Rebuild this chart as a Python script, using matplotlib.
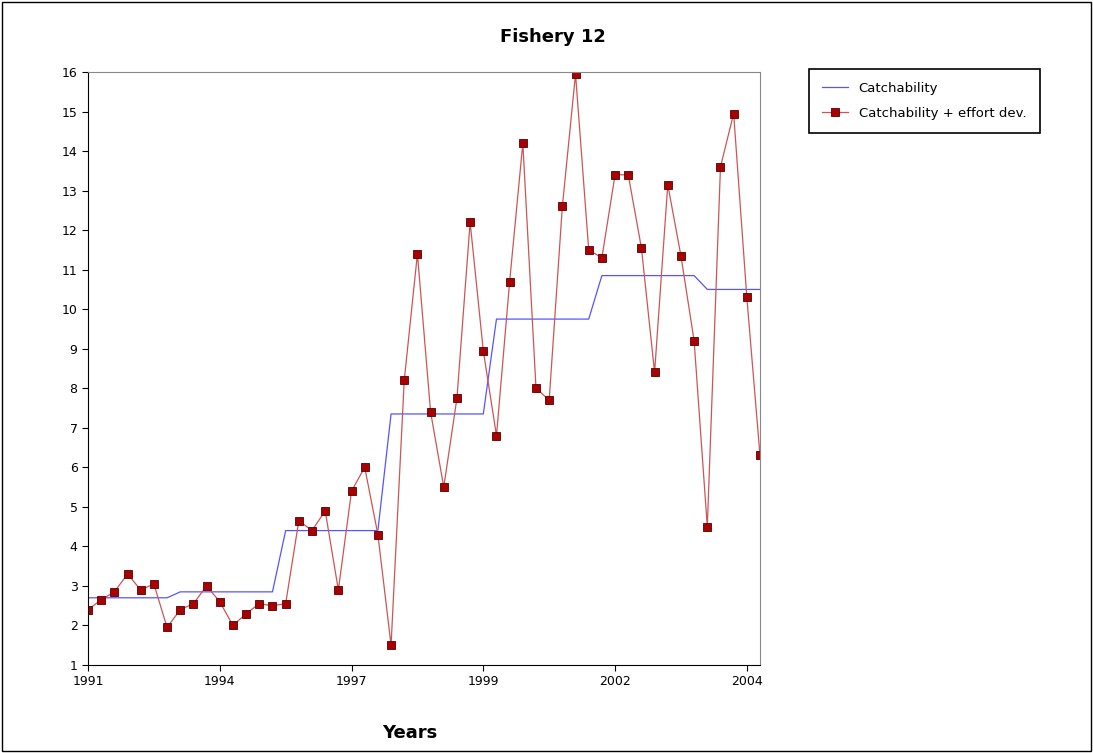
import numpy as np
import matplotlib
matplotlib.use('Agg')
import matplotlib.pyplot as plt

tick_labels = ['1991', '1994', '1997', '1999', '2002', '2004']
effort = [2.4, 2.65, 2.85, 3.3, 2.9, 3.05, 1.95, 2.4, 2.55, 3.0,
          2.6, 2.0, 2.3, 2.55, 2.5, 2.55, 4.65, 4.4, 4.9, 2.9,
          5.4, 6.0, 4.3, 1.5, 8.2, 11.4, 7.4, 5.5, 7.75, 12.2,
          8.95, 6.8, 10.7, 14.2, 8.0, 7.7, 12.6, 15.95, 11.5, 11.3,
          13.4, 13.4, 11.55, 8.4, 13.15, 11.35, 9.2, 4.5, 13.6, 14.95,
          10.3, 6.3]
catch = [2.7]*7 + [2.85]*8 + [4.4]*8 + [7.35]*8 + [9.75]*8 + [10.85]*8 + [10.5]*5
x = np.arange(len(effort))

fig = plt.figure(figsize=(10.93, 7.53), dpi=100)
ax = fig.add_axes([88/1093, 1-665/753, 672/1093, 593/753])
ax.plot(x, catch, color='#5555ff', lw=0.9, label='Catchability')
ax.plot(x, effort, color='#cc5555', lw=0.9, marker='s', ms=6,
        mfc='#aa0000', mec='#550000', mew=0.6, label='Catchability + effort dev.')
ax.set_xlim(0, 51)
ax.set_ylim(1, 16)
ax.set_yticks(range(1, 17))
ax.set_xticks([0, 10, 20, 30, 40, 50])
ax.set_xticklabels(tick_labels)
ax.tick_params(labelsize=9, direction='out', length=4)
for s in ['top', 'right']:
    ax.spines[s].set_color('#888888')
fig.text(410/1093, 1-733/753, 'Years', fontsize=13, fontweight='bold', ha='center', va='center')
fig.text(553/1093, 1-37/753, 'Fishery 12', fontsize=13, fontweight='bold', ha='center', va='center')
leg = fig.legend(loc='upper left', bbox_to_anchor=(802/1093, 1-62/753), fontsize=9.5,
                 fancybox=False, edgecolor='black', framealpha=1, borderpad=1.0,
                 handlelength=2, labelspacing=0.9)
leg.get_frame().set_linewidth(1.2)
fig.patches.append(plt.Rectangle((0.002, 0.002), 0.996, 0.996, transform=fig.transFigure,
                                 fill=False, edgecolor='black', lw=1))
fig.savefig('out.png', dpi=100)
